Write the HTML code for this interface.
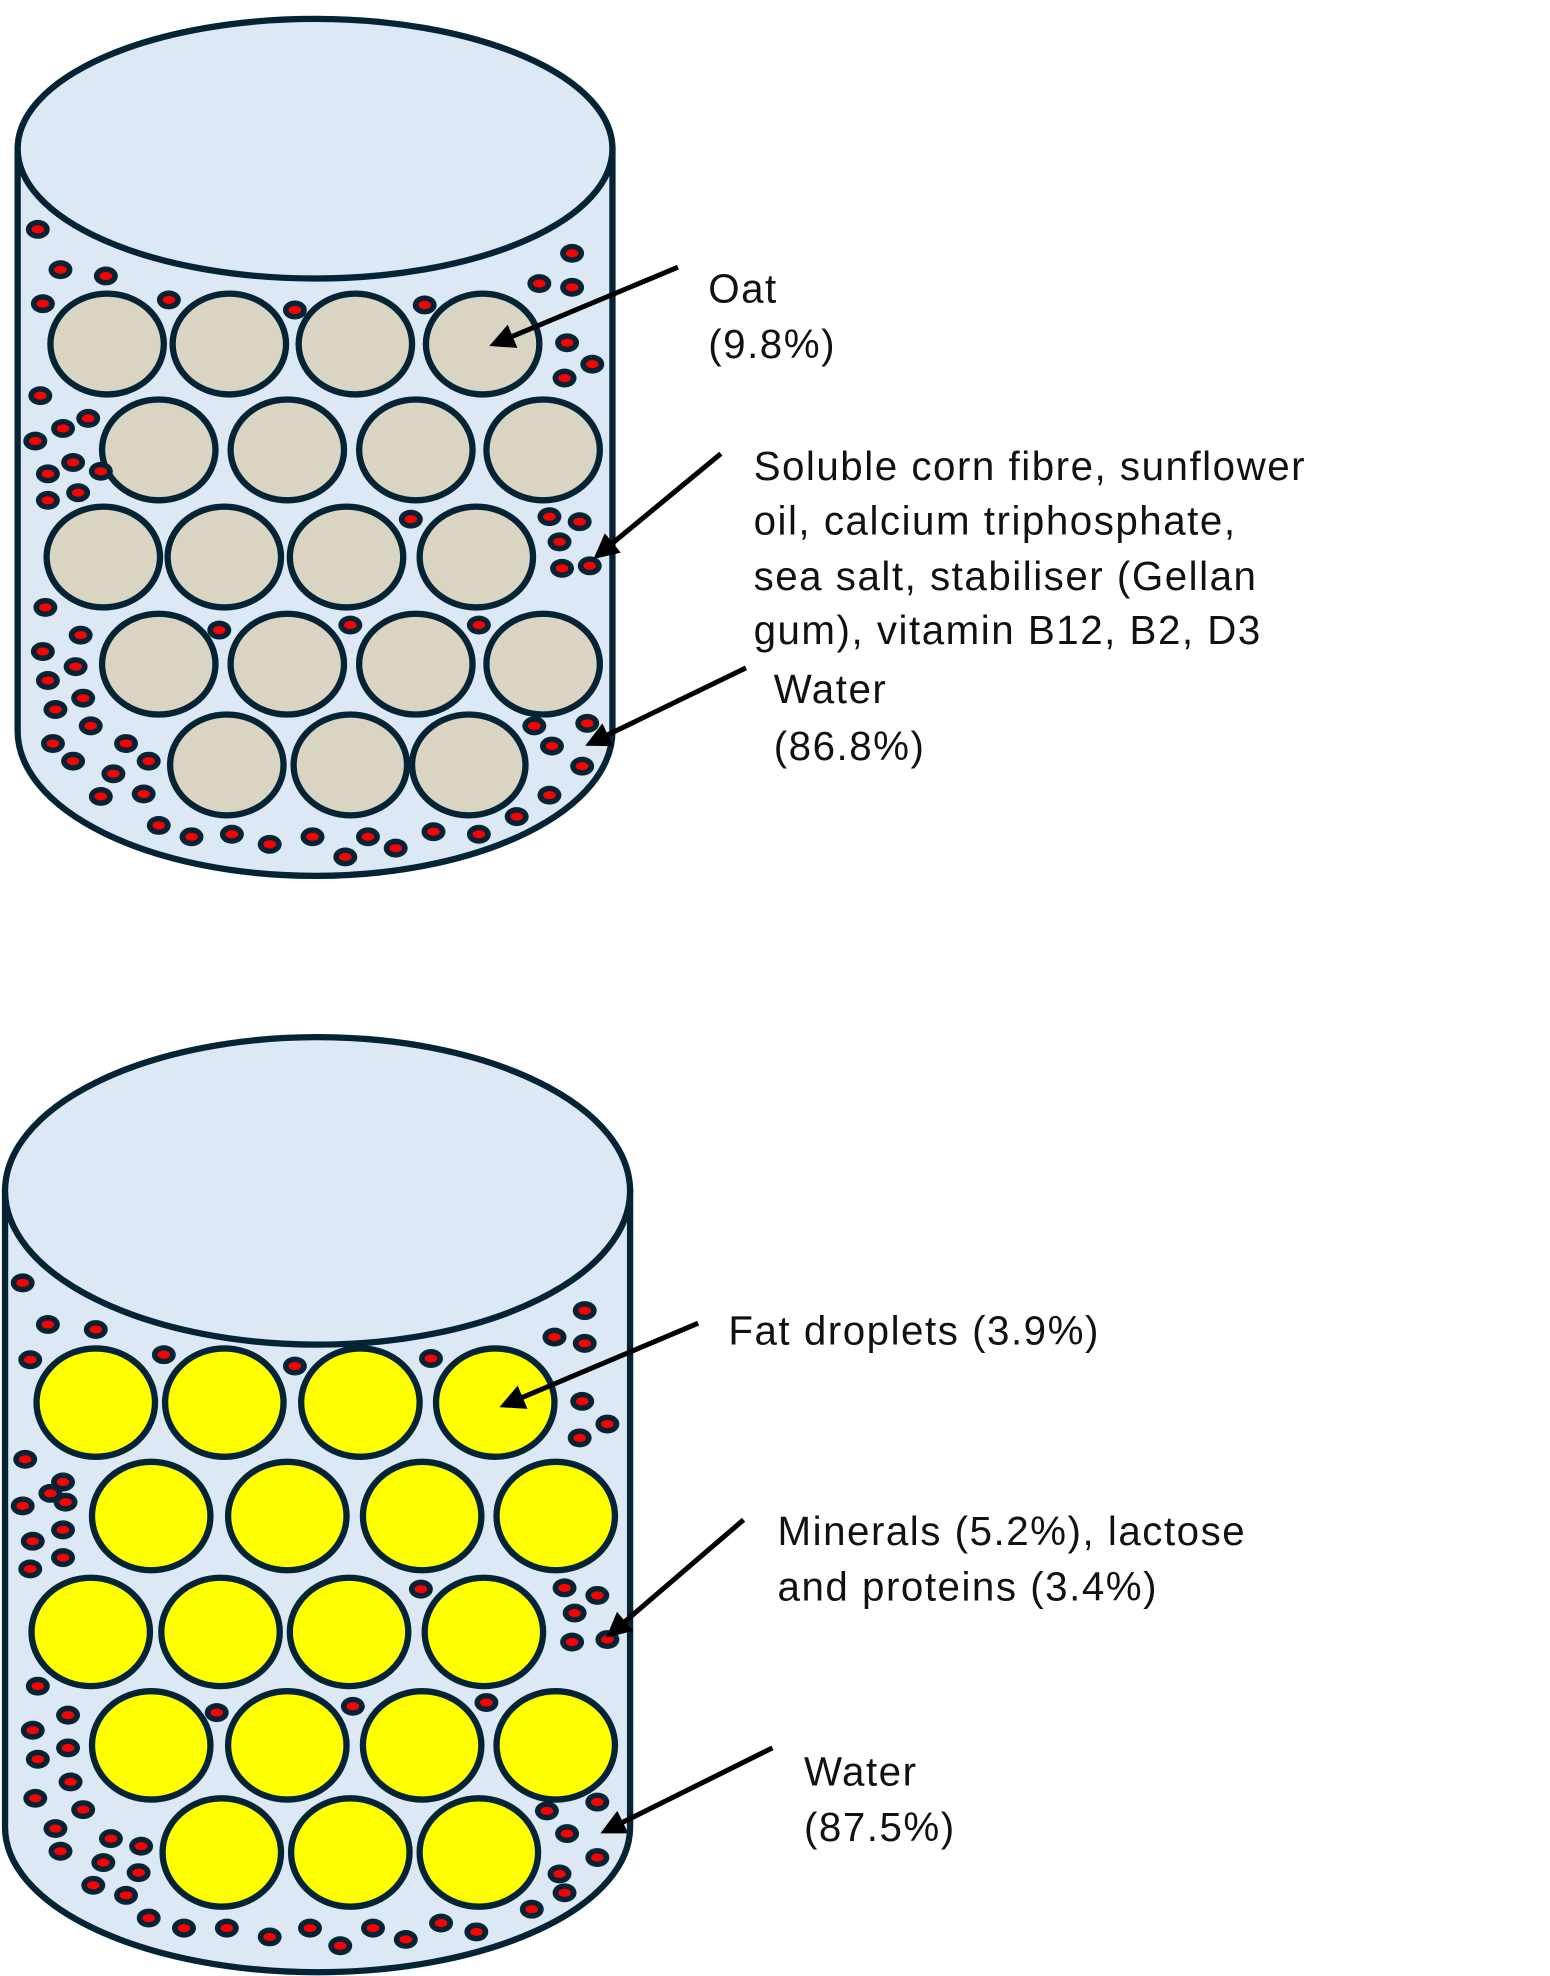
<!DOCTYPE html>
<html><head><meta charset="utf-8">
<style>
html,body{margin:0;padding:0;background:#fff;width:1550px;height:1976px;overflow:hidden}
svg{display:block}
text{font-family:"Liberation Sans",sans-serif;font-size:32px;letter-spacing:1.2px;fill:#111}
</style></head>
<body>
<svg id="fig" width="1550" height="1976" viewBox="0 0 1230 1568" preserveAspectRatio="none" xmlns="http://www.w3.org/2000/svg">
<defs>
<marker id="ah" viewBox="0 0 10 10" refX="8" refY="5" markerWidth="5" markerHeight="5" orient="auto"><path d="M0,0 L10,5 L0,10 z" fill="#000"/></marker>
</defs>
<g id="cyl1">
<path d="M14,118 L14,580 A236,115 0 0 0 486,580 L486,118 Z" fill="#dce9f5" stroke="#042335" stroke-width="5"/>
<ellipse cx="250" cy="118" rx="236" ry="103" fill="#dce9f5" stroke="#042335" stroke-width="5"/>
</g>
<g id="cyl2">
<path d="M4,945 L4,1450 A248,115 0 0 0 500,1450 L500,945 Z" fill="#dce9f5" stroke="#042335" stroke-width="5"/>
<ellipse cx="252" cy="945" rx="248" ry="122" fill="#dce9f5" stroke="#042335" stroke-width="5"/>
</g>
<g id="marks"></g>
<g id="arrows" stroke="#000" stroke-width="4" fill="none">
<line x1="538" y1="212" x2="392" y2="273" marker-end="url(#ah)"/>
<line x1="572" y1="360" x2="474" y2="441" marker-end="url(#ah)"/>
<line x1="592" y1="530" x2="468" y2="590" marker-end="url(#ah)"/>
<line x1="554" y1="1050" x2="400" y2="1115" marker-end="url(#ah)"/>
<line x1="590" y1="1206" x2="484" y2="1297" marker-end="url(#ah)"/>
<line x1="613" y1="1387" x2="480" y2="1453" marker-end="url(#ah)"/>
</g>
<g>
<text x="562" y="240">Oat</text>
<text x="562" y="284">(9.8%)</text>
<text x="598" y="381">Soluble corn fibre, sunflower</text>
<text x="598" y="424">oil, calcium triphosphate,</text>
<text x="598" y="468">sea salt, stabiliser (Gellan</text>
<text x="598" y="511">gum), vitamin B12, B2, D3</text>
<text x="614" y="558">Water</text>
<text x="614" y="603">(86.8%)</text>
<text x="578" y="1067">Fat droplets (3.9%)</text>
<text x="617" y="1226">Minerals (5.2%), lactose</text>
<text x="617" y="1270">and proteins (3.4%)</text>
<text x="638" y="1417">Water</text>
<text x="638" y="1461">(87.5%)</text>
</g>
</svg>
<script>
const oatX = [[85,182,282,383],[126,228,330,431],[82,178,275,378],[126,228,330,431],[180,278,372]];
const oatY = [273,357,442,527,607];
const fatX = [[76,178,286,393],[120,228,335,441],[72,175,277,384],[120,228,335,441],[176,278,380]];
const fatY = [1113,1203,1295,1385,1470];
const dotsTop = [[30,182],[48,214],[84,219],[34,241],[134,238],[234,246],[337,242],[428,225],[454,201],[454,228],[450,272],[470,289],[448,300],[32,314],[70,332],[50,340],[28,350],[58,367],[38,376],[80,374],[62,391],[38,397],[326,412],[436,410],[460,414],[444,430],[446,451],[468,449],[36,482],[64,504],[34,517],[60,529],[38,540],[66,554],[174,500],[278,496],[380,496],[44,563],[72,576],[100,590],[118,604],[42,590],[58,604],[90,614],[114,630],[80,632],[424,576],[466,574],[438,592],[462,608],[436,631],[126,655],[152,664],[184,662],[214,670],[248,664],[274,680],[292,664],[314,673],[344,660],[380,662],[410,648]];
const dotsBottom = [[18,1018],[38,1051],[76,1055],[24,1079],[130,1075],[234,1084],[342,1078],[440,1061],[464,1040],[464,1066],[462,1112],[482,1130],[460,1141],[20,1158],[50,1176],[40,1185],[18,1195],[50,1214],[26,1223],[24,1245],[50,1236],[52,1192],[448,1260],[474,1266],[456,1280],[454,1303],[482,1301],[334,1261],[30,1338],[54,1361],[26,1373],[54,1387],[30,1396],[56,1414],[172,1359],[280,1354],[386,1351],[28,1427],[66,1436],[44,1451],[88,1459],[112,1465],[48,1469],[82,1478],[110,1486],[74,1496],[100,1504],[434,1437],[474,1430],[450,1455],[474,1474],[444,1487],[118,1522],[146,1530],[180,1530],[214,1537],[246,1530],[270,1544],[296,1530],[322,1539],[350,1526],[378,1533],[422,1515],[448,1502]];
const NS = "http://www.w3.org/2000/svg";
const g = document.getElementById("marks");
function ell(cx, cy, rx, ry, fill, sw) {
  const e = document.createElementNS(NS, "ellipse");
  e.setAttribute("cx", cx); e.setAttribute("cy", cy);
  e.setAttribute("rx", rx); e.setAttribute("ry", ry);
  e.setAttribute("fill", fill);
  if (sw) { e.setAttribute("stroke", "#042335"); e.setAttribute("stroke-width", sw); }
  g.appendChild(e);
  return e;
}
oatY.forEach((y, r) => oatX[r].forEach(x => {
  const e = ell(x, y, 45, 40, "#d9d5c2", 5);
  
  
}));
fatY.forEach((y, r) => fatX[r].forEach(x => {
  const e = ell(x, y, 47, 43, "#ffff00", 5);
  
  
}));
dotsTop.concat(dotsBottom).forEach(d => {
  const o = ell(d[0], d[1], 9.5, 7.5, "#042335", 0);
  
  
  const i = ell(d[0], d[1], 5, 3.2, "#ff0000", 0);
  
  
});
</script>
</body></html>
